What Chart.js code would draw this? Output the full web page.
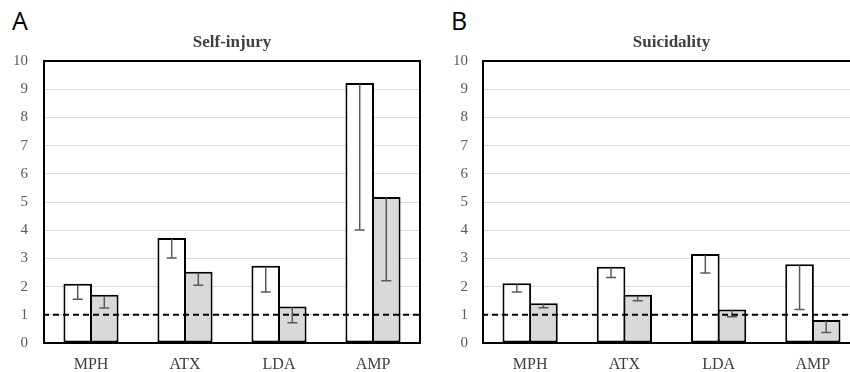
<!DOCTYPE html>
<html>
<head>
<meta charset="utf-8">
<script src="https://cdn.jsdelivr.net/npm/chart.js@4"></script>
<style>
    html, body { margin: 0; padding: 0; background: #fff; overflow: hidden; }
    body { width: 850px; height: 372px; position: relative; }
    .panel { position: absolute; top: 0; width: 425px; height: 372px; overflow: hidden; }
    .letter { position: absolute; font-family: "Open Sans", sans-serif; font-size: 25px; line-height: 1; color: #000; }
</style>
</head>
<body>
<div class="letter" style="left:12px; top:8px;">A</div>
<div class="letter" style="left:451px; top:8px;">B</div>
<div class="panel" style="left:0;"><canvas id="chartA" width="425" height="372"></canvas></div>
<div class="panel" style="left:425px;"><canvas id="chartB" width="437" height="372"></canvas></div>
<script>
// Data
const categories = ['MPH', 'ATX', 'LDA', 'AMP'];
const yTicks = [0, 1, 2, 3, 4, 5, 6, 7, 8, 9, 10];
const referenceLine = 1;

// Self-injury (panel A)
const selfInjuryWhite = [2.1, 3.72, 2.74, 9.22];
const selfInjuryWhiteLow = [1.55, 3.01, 1.81, 4.01];
const selfInjuryGray = [1.71, 2.53, 1.29, 5.18];
const selfInjuryGrayLow = [1.24, 2.05, 0.72, 2.21];

// Suicidality (panel B)
const suicidalityWhite = [2.12, 2.70, 3.16, 2.79];
const suicidalityWhiteLow = [1.81, 2.32, 2.48, 1.19];
const suicidalityGray = [1.41, 1.71, 1.19, 0.82];
const suicidalityGrayLow = [1.25, 1.50, 0.93, 0.37];

// Plugins
const errorBars = {
    id: 'errorBars',
    afterDatasetsDraw(chart) {
        const ctx = chart.ctx;
        const y = chart.scales.y;
        ctx.save();
        ctx.strokeStyle = '#595959';
        ctx.lineWidth = 1.5;
        chart.data.datasets.forEach((ds, i) => {
            const meta = chart.getDatasetMeta(i);
            meta.data.forEach((bar, j) => {
                const yLow = y.getPixelForValue(ds.lower[j]);
                ctx.beginPath();
                ctx.moveTo(bar.x, bar.y + 1);
                ctx.lineTo(bar.x, yLow);
                ctx.moveTo(bar.x - 5, yLow);
                ctx.lineTo(bar.x + 5, yLow);
                ctx.stroke();
            });
        });
        ctx.restore();
    }
};

const refLine = {
    id: 'refLine',
    afterDatasetsDraw(chart) {
        const ctx = chart.ctx;
        const area = chart.chartArea;
        const yPix = chart.scales.y.getPixelForValue(referenceLine);
        ctx.save();
        ctx.strokeStyle = '#000';
        ctx.lineWidth = 2;
        ctx.setLineDash([6, 4]);
        ctx.beginPath();
        ctx.moveTo(area.left - 1, yPix);
        ctx.lineTo(area.right, yPix);
        ctx.stroke();
        ctx.restore();
    }
};

const plotBorder = {
    id: 'plotBorder',
    afterDraw(chart) {
        const ctx = chart.ctx;
        const a = chart.chartArea;
        ctx.save();
        ctx.strokeStyle = '#000';
        ctx.lineWidth = 2;
        ctx.strokeRect(a.left, a.top, a.right - a.left, a.bottom - a.top);
        ctx.restore();
    }
};

function makeChart(id, title, white, whiteLow, gray, grayLow, yWidth, yPad, rightPad) {
    const ctx = document.getElementById(id).getContext('2d');
    return new Chart(ctx, {
        type: 'bar',
        data: {
            labels: categories,
            datasets: [
                {
                    data: white,
                    lower: whiteLow,
                    backgroundColor: '#ffffff',
                    borderColor: '#000000',
                    borderWidth: 2,
                    borderSkipped: false
                },
                {
                    data: gray,
                    lower: grayLow,
                    backgroundColor: '#d9d9d9',
                    borderColor: '#000000',
                    borderWidth: 2,
                    borderSkipped: false
                }
            ]
        },
        options: {
            responsive: false,
            animation: false,
            categoryPercentage: 0.565,
            barPercentage: 1.075,
            layout: { padding: { left: 0, right: rightPad, top: 0, bottom: 0 } },
            plugins: {
                legend: { display: false },
                tooltip: { enabled: false },
                title: {
                    display: true,
                    fullSize: false,
                    text: title,
                    color: '#404040',
                    font: { family: '"Liberation Serif", serif', size: 17, weight: 'bold', lineHeight: '18px' },
                    padding: { top: 34, bottom: 9 }
                }
            },
            scales: {
                x: {
                    grid: { display: false, drawTicks: false },
                    border: { display: false },
                    ticks: {
                        color: '#404040',
                        padding: 12,
                        font: { family: '"Liberation Serif", serif', size: 16 }
                    },
                    afterFit(scale) { scale.height = 29; }
                },
                y: {
                    min: 0,
                    max: 10,
                    afterBuildTicks(scale) { scale.ticks = yTicks.map(v => ({ value: v })); },
                    grid: { color: '#d9d9d9', lineWidth: 1, drawTicks: false },
                    border: { display: false },
                    ticks: {
                        color: '#595959',
                        padding: yPad,
                        font: { family: '"Liberation Serif", serif', size: 15 }
                    },
                    afterFit(scale) { scale.width = yWidth; }
                }
            }
        },
        plugins: [errorBars, refLine, plotBorder]
    });
}

makeChart('chartA', 'Self-injury', selfInjuryWhite, selfInjuryWhiteLow, selfInjuryGray, selfInjuryGrayLow, 44, 16, 5);
makeChart('chartB', 'Suicidality', suicidalityWhite, suicidalityWhiteLow, suicidalityGray, suicidalityGrayLow, 58, 15, 2);
</script>
</body>
</html>
